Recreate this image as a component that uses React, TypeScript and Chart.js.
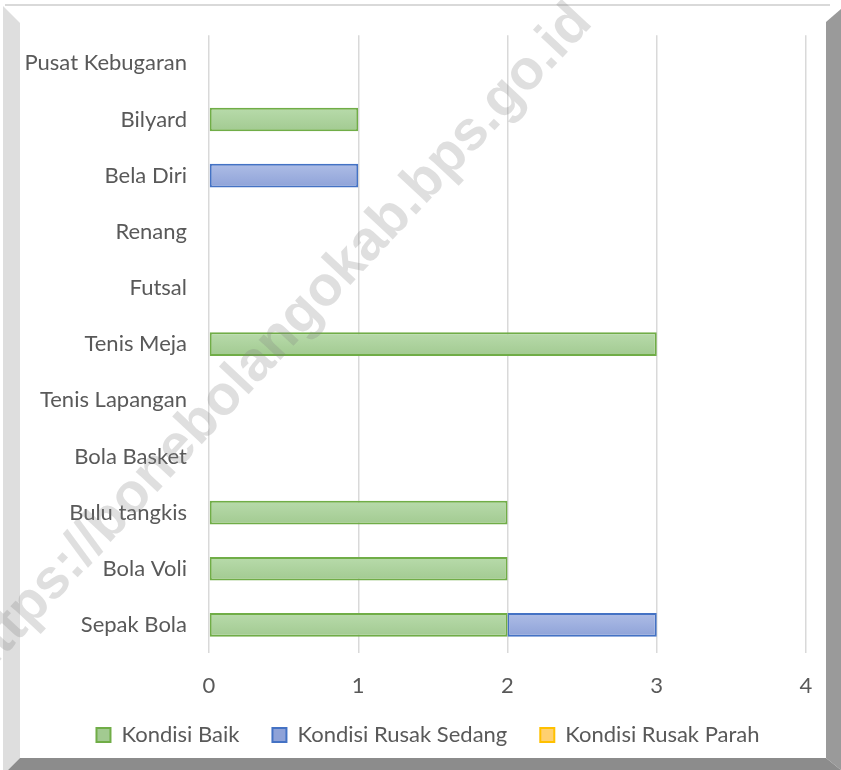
import React, { useEffect, useRef } from "react";
import { Chart, registerables } from "chart.js";

Chart.register(...registerables);

const categories = [
  "Pusat Kebugaran",
  "Bilyard",
  "Bela Diri",
  "Renang",
  "Futsal",
  "Tenis Meja",
  "Tenis Lapangan",
  "Bola Basket",
  "Bulu tangkis",
  "Bola Voli",
  "Sepak Bola",
];
const kondisiBaik = [0, 1, 0, 0, 0, 3, 0, 0, 2, 2, 2];
const kondisiRusakSedang = [0, 0, 1, 0, 0, 0, 0, 0, 0, 0, 1];
const kondisiRusakParah = [0, 0, 0, 0, 0, 0, 0, 0, 0, 0, 0];
const xTickValues = [0, 1, 2, 3, 4];
const seriesNames = ["Kondisi Baik", "Kondisi Rusak Sedang", "Kondisi Rusak Parah"];
const watermarkText = "https://bonebolangokab.bps.go.id";

const FONT = "Lato";
const TEXT = "#595959";

const framePlugin = {
  id: "frame",
  beforeDraw(chart: any) {
    const ctx = chart.ctx;
    const W = chart.width;
    const H = chart.height;
    ctx.save();
    ctx.fillStyle = "#ffffff";
    ctx.fillRect(0, 0, W, H);
    ctx.fillStyle = "#d9d9d9";
    ctx.fillRect(5, 4, 825, 2);
    ctx.fillStyle = "#dedede";
    ctx.beginPath();
    ctx.moveTo(3, 6);
    ctx.lineTo(20, 23);
    ctx.lineTo(20, 758);
    ctx.lineTo(8, 770);
    ctx.lineTo(3, 770);
    ctx.closePath();
    ctx.fill();
    ctx.fillStyle = "#9a9a9a";
    ctx.beginPath();
    ctx.moveTo(826, 22);
    ctx.lineTo(841, 9);
    ctx.lineTo(841, 770);
    ctx.lineTo(826, 758);
    ctx.closePath();
    ctx.fill();
    ctx.fillStyle = "#8c8c8c";
    ctx.beginPath();
    ctx.moveTo(8, 770);
    ctx.lineTo(20, 758);
    ctx.lineTo(826, 758);
    ctx.lineTo(841, 770);
    ctx.closePath();
    ctx.fill();
    ctx.restore();
  },
  afterDraw(chart: any) {
    const ctx = chart.ctx;
    ctx.save();
    ctx.translate(276, 342);
    ctx.rotate((-47 * Math.PI) / 180);
    ctx.font = "bold 56px 'Liberation Sans'";
    ctx.fillStyle = "rgba(128,128,128,0.25)";
    ctx.textAlign = "center";
    ctx.textBaseline = "middle";
    ctx.fillText(watermarkText, 0, 0);
    ctx.restore();
  },
};

const noClip = (scale: any) => {
  scale._computeLabelArea = () => undefined;
};

const barFill = (top: string, bottom: string, flat: string) => (c: any) => {
  const chart = c.chart;
  const y = chart.scales && chart.scales.y;
  if (c.type !== "data" || !y || !chart.chartArea) return flat;
  const py = y.getPixelForValue(c.dataIndex);
  if (!isFinite(py)) return flat;
  const g = chart.ctx.createLinearGradient(0, py - 12, 0, py + 12);
  g.addColorStop(0, top);
  g.addColorStop(1, bottom);
  return g;
};

export default function App() {
  const ref = useRef<HTMLCanvasElement | null>(null);

  useEffect(() => {
    if (!ref.current) return;
    const toData = (arr: number[]) => arr.map((v) => (v === 0 ? null : v));
    const chart = new Chart(ref.current, {
      type: "bar",
      data: {
        labels: categories,
        datasets: [
          {
            label: seriesNames[0],
            data: toData(kondisiBaik),
            backgroundColor: barFill("#b8dbab", "#a2ca91", "#aed39f"),
            borderColor: "#70ad47",
            borderWidth: 2,
            borderSkipped: false,
          },
          {
            label: seriesNames[1],
            data: toData(kondisiRusakSedang),
            backgroundColor: barFill("#aebde6", "#8ea2d8", "#9eb0df"),
            borderColor: "#4472c4",
            borderWidth: 2,
            borderSkipped: false,
          },
          {
            label: seriesNames[2],
            data: toData(kondisiRusakParah),
            backgroundColor: barFill("#ffe0a0", "#ffd070", "#ffd98c"),
            borderColor: "#ffc000",
            borderWidth: 2,
            borderSkipped: false,
          },
        ] as any,
      },
      options: {
        indexAxis: "y",
        animation: false,
        responsive: false,
        maintainAspectRatio: false,
        datasets: {
          bar: { categoryPercentage: 1, barPercentage: 0.42 },
        },
        layout: { padding: { left: 50, right: 35, top: 35, bottom: 14 } },
        scales: {
          x: {
            type: "linear",
            stacked: true,
            min: 0,
            max: 4,
            afterBuildTicks: (scale: any) => {
              scale.ticks = xTickValues.map((v) => ({ value: v }));
            },
            afterFit: (scale: any) => {
              scale.height = 38;
              noClip(scale);
            },
            ticks: {
              color: TEXT,
              font: { family: FONT, size: 22 },
              padding: 20,
            },
            grid: { color: "#d9d9d9", lineWidth: 1.5, drawTicks: false },
            border: { display: false },
          },
          y: {
            stacked: true,
            afterFit: (scale: any) => {
              scale.width = 159;
              noClip(scale);
            },
            ticks: {
              color: TEXT,
              font: { family: FONT, size: 22 },
              padding: 22,
            },
            grid: { display: false, drawTicks: false },
            border: { display: false },
          },
        },
        plugins: {
          legend: {
            position: "bottom",
            labels: {
              color: TEXT,
              font: { family: FONT, size: 22 },
              boxWidth: 14,
              boxHeight: 14,
              padding: 33,
            },
          },
          tooltip: { enabled: false },
        },
      } as any,
      plugins: [framePlugin],
    });
    return () => chart.destroy();
  }, []);

  return (
    <div style={{ position: "absolute", left: 0, top: 0, width: 841, height: 770 }}>
      <canvas ref={ref} width={841} height={770} style={{ width: 841, height: 770, display: "block" }} />
    </div>
  );
}
